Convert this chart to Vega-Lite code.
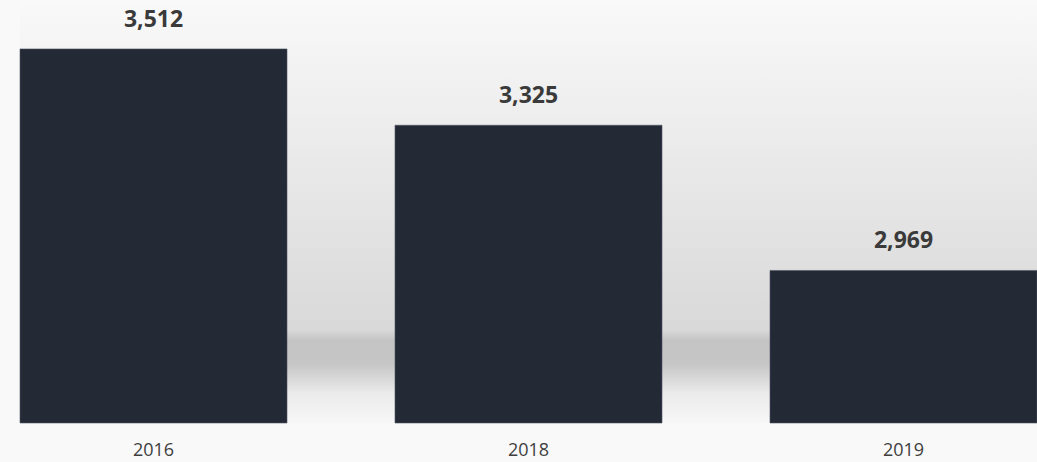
{
  "$schema": "https://vega.github.io/schema/vega-lite/v6.json",
  "width": 1017,
  "height": 423,
  "autosize": {"type": "none"},
  "padding": {"left": 20, "top": 0, "right": 0, "bottom": 39},
  "background": "#f9f9f9",
  "config": {
    "view": {
      "stroke": null,
      "fill": {
        "gradient": "linear",
        "x1": 0, "y1": 0, "x2": 0, "y2": 1,
        "stops": [
          {"offset": 0, "color": "#f9f9f9"},
          {"offset": 0.78, "color": "#d9d9d9"},
          {"offset": 0.805, "color": "#c4c4c4"},
          {"offset": 0.86, "color": "#c6c6c6"},
          {"offset": 0.93, "color": "#ebebeb"},
          {"offset": 1, "color": "#f7f7f7"}
        ]
      }
    },
    "font": "Open Sans"
  },
  "data": {
    "values": [
      {"year": "2016", "value": 3512},
      {"year": "2018", "value": 3325},
      {"year": "2019", "value": 2969}
    ]
  },
  "encoding": {
    "x": {
      "field": "year",
      "type": "nominal",
      "sort": null,
      "scale": {"paddingInner": 0.288, "paddingOuter": 0},
      "axis": {
        "title": null,
        "domain": false,
        "ticks": false,
        "labelAngle": 0,
        "labelFont": "Open Sans",
        "labelFontSize": 18,
        "labelColor": "#3f3f3f",
        "labelPadding": 18
      }
    },
    "y": {
      "field": "value",
      "type": "quantitative",
      "scale": {"domain": [2595, 3632], "zero": false, "nice": false},
      "axis": null
    }
  },
  "layer": [
    {
      "mark": {"type": "bar", "color": "#232935", "stroke": "#4f5663", "strokeWidth": 0.6},
      "encoding": {
        "y2": {"datum": 2595}
      }
    },
    {
      "mark": {
        "type": "text",
        "baseline": "alphabetic",
        "dy": -22,
        "font": "Open Sans",
        "fontSize": 23,
        "fontWeight": "bold",
        "color": "#3a3a3a"
      },
      "encoding": {
        "text": {"field": "value", "type": "quantitative", "format": ","}
      }
    }
  ]
}
